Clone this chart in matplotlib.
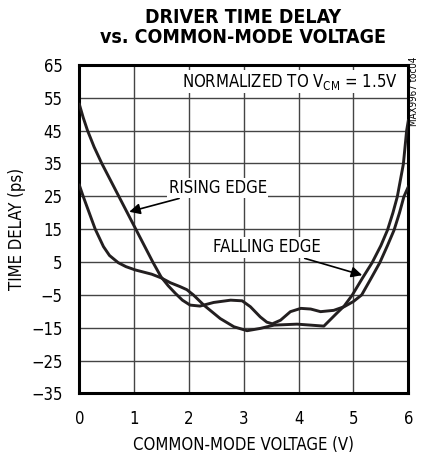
import matplotlib
matplotlib.use("Agg")
import matplotlib.pyplot as plt

plt.rcParams['font.family'] = ['DejaVu Sans']
plt.rcParams['font.stretch'] = 'condensed'

# curve that starts high at 0 V (bumpy through the middle)
vcm_a = [0, 0.07, 0.15, 0.27, 0.41, 0.72, 1.03, 1.34, 1.49, 1.62, 1.75, 1.88, 2.02,
         2.2, 2.45, 2.76, 2.97, 3.12, 3.30, 3.42, 3.52, 3.67, 3.85, 4.04, 4.22, 4.40,
         4.64, 4.83, 5.0, 5.15, 5.32, 5.48, 5.62, 5.74, 5.84, 5.92, 6.0]
delay_a = [53, 49, 45, 40, 35, 25, 15, 5, 0.5, -2.2, -4.5, -6.6, -8.1,
           -8.4, -7.3, -6.6, -6.8, -8.6, -11.7, -13.3, -13.8, -12.7, -10.1, -9.1, -9.3, -10.1,
           -9.7, -8.6, -7.0, -5, 0, 4.8, 10, 14.7, 20, 24.9, 27.9]

# curve that starts lower at 0 V (flat bottom near -15)
vcm_b = [0, 0.07, 0.18, 0.29, 0.44, 0.55, 0.71, 0.85, 1.02, 1.32, 1.49, 1.66, 1.84,
         1.96, 2.08, 2.27, 2.57, 2.82, 3.06, 3.30, 3.55, 3.97, 4.22, 4.46, 4.58,
         4.70, 4.83, 4.98, 5.16, 5.34, 5.50, 5.62, 5.72, 5.80, 5.91, 5.97, 6.0]
delay_b = [28.4, 25, 20, 15, 9.7, 7, 4.8, 3.6, 2.6, 1.3, 0.2, -1.3, -2.5,
           -3.4, -5, -8.1, -12.2, -14.7, -15.9, -15.2, -14.2, -13.9, -14.2, -14.5, -12.5,
           -10.5, -8.4, -5, 0, 4.8, 10, 14.7, 20, 24.9, 34.8, 45, 48]

x_ticks = [0, 1, 2, 3, 4, 5, 6]
y_ticks = [-35, -25, -15, -5, 5, 15, 25, 35, 45, 55, 65]

fig = plt.figure(figsize=(4.22, 4.57), dpi=100)
ax = fig.add_axes([0.188, 0.139, 0.7795, 0.719])

ax.plot(vcm_a, delay_a, color='#231f20', lw=2.1, solid_joinstyle='round', zorder=3)
ax.plot(vcm_b, delay_b, color='#231f20', lw=2.1, solid_joinstyle='round', zorder=3)

ax.set_xlim(0, 6)
ax.set_ylim(-35, 65)
ax.set_xticks(x_ticks)
ax.set_yticks(y_ticks)
ax.grid(True, color='#444444', lw=1.0)
ax.set_axisbelow(True)
ax.tick_params(length=0, labelsize=12, pad=12)
for s in ax.spines.values():
    s.set_linewidth(2.2)
    s.set_color('black')

ax.set_xlabel('COMMON-MODE VOLTAGE (V)', fontsize=12, labelpad=6)
ax.set_ylabel('TIME DELAY (ps)', fontsize=12, labelpad=4)

fig.text(0.576, 0.983, 'DRIVER TIME DELAY\nvs. COMMON-MODE VOLTAGE', ha='center',
         va='top', fontsize=14, fontweight='bold', linespacing=1.1)

ax.text(5.8, 59.9, r'NORMALIZED TO V$_{\mathregular{CM}}$ = 1.5V', ha='right',
        va='center', fontsize=12,
        bbox=dict(facecolor='white', edgecolor='none', pad=1), zorder=4)

ax.annotate('RISING EDGE', xy=(0.91, 20.3), xytext=(1.63, 27.5), fontsize=12,
            va='center', ha='left',
            bbox=dict(facecolor='white', edgecolor='none', pad=1),
            arrowprops=dict(arrowstyle='-|>', color='black', lw=1.2,
                            mutation_scale=16, shrinkA=0, shrinkB=0), zorder=4)
ax.annotate('FALLING EDGE', xy=(5.16, 1.0), xytext=(4.4, 9.5), fontsize=12,
            va='center', ha='right',
            bbox=dict(facecolor='white', edgecolor='none', pad=1),
            arrowprops=dict(arrowstyle='-|>', color='black', lw=1.2,
                            mutation_scale=16, shrinkA=2, shrinkB=0), zorder=4)

fig.text(0.982, 0.80, 'MAX9967 toc04', rotation=90, ha='center', va='center',
         fontsize=7)

fig.savefig('out.png', dpi=100)
